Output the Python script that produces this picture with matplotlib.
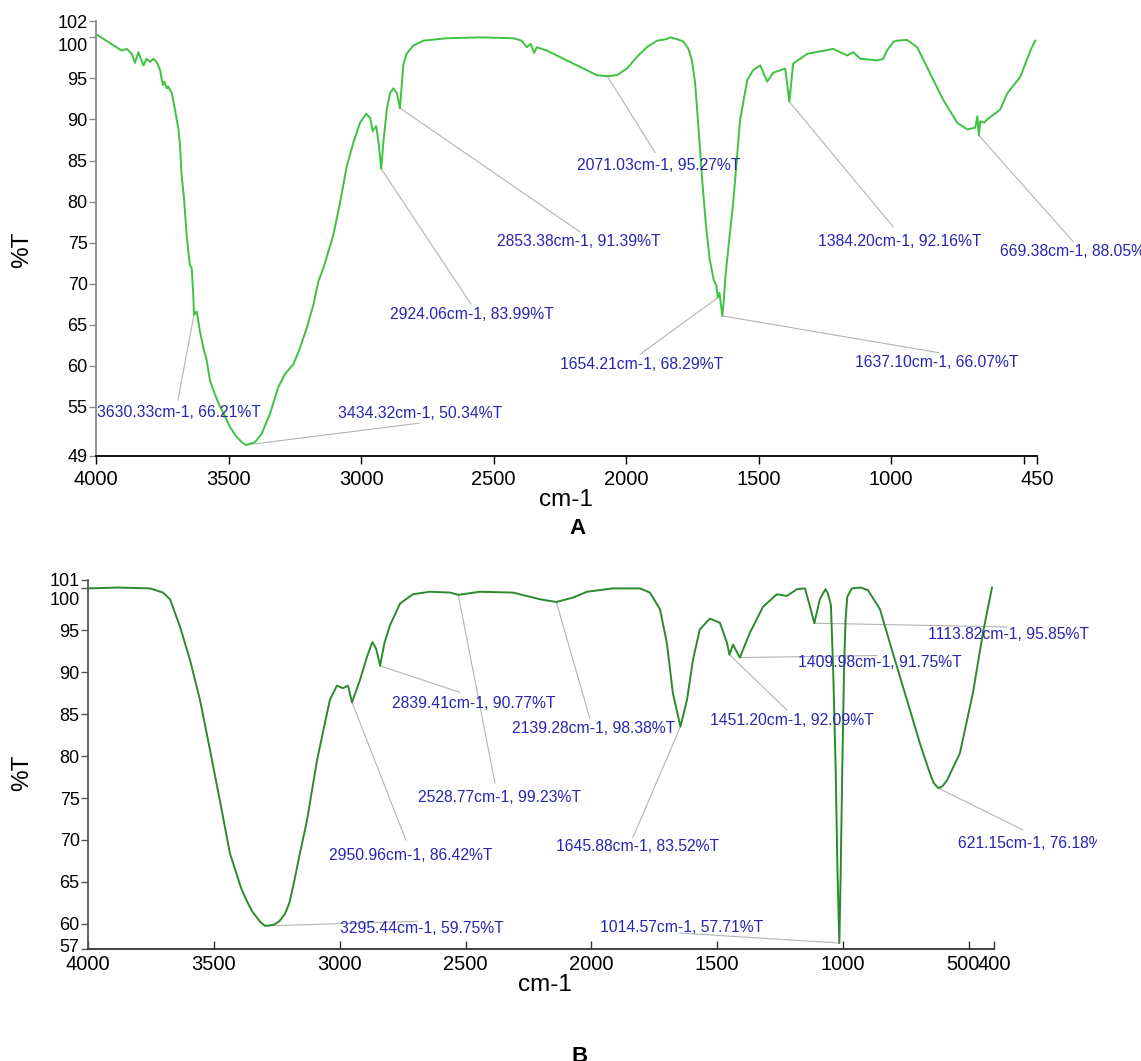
# FTIR spectra A and B with labelled peaks

import matplotlib
matplotlib.use('Agg')
import matplotlib.pyplot as plt
from matplotlib.transforms import Bbox, ScaledTranslation

plt.rcParams['font.family'] = ['Liberation Sans', 'DejaVu Sans']

# ---- spectrum A (wavenumber cm-1, %T) ----
a_wn = [4000, 3903, 3884, 3865, 3853, 3840, 3821, 3809, 3796, 3784, 3771, 3758,
        3748, 3742, 3733, 3727, 3714, 3702, 3689, 3683, 3677, 3668, 3658, 3649,
        3645, 3639, 3633, 3630.33, 3620, 3608, 3595, 3582, 3570, 3557, 3538,
        3519, 3494, 3469, 3444, 3434.32, 3400, 3375, 3343, 3312, 3287, 3255,
        3230, 3205, 3180, 3161, 3142, 3105, 3079, 3054, 3029, 3004, 2981, 2966,
        2956, 2943, 2934, 2924.06, 2916, 2903, 2891, 2878, 2865, 2853.38, 2847,
        2840, 2828, 2803, 2765, 2677, 2551, 2425, 2394, 2375, 2360, 2347, 2337,
        2299, 2249, 2199, 2148, 2111, 2071.03, 2035, 1997, 1960, 1922, 1884,
        1846, 1834, 1809, 1784, 1765, 1752, 1740, 1727, 1714, 1700, 1685, 1670,
        1660, 1654.21, 1648, 1637.10, 1632, 1625, 1612, 1596, 1570, 1543, 1521,
        1494, 1468, 1445, 1400, 1384.20, 1370, 1317, 1219, 1166, 1143, 1117,
        1053, 1030, 1016, 991, 978, 940, 902, 853, 804, 751, 713, 683, 675,
        669.38, 664, 650, 638, 589, 562, 513, 475, 457]
a_T = [100.4, 98.4, 98.6, 98.0, 96.9, 98.2, 96.6, 97.4, 97.0, 97.4, 97.0, 96.0,
       94.2, 94.6, 93.8, 94.0, 93.2, 91.2, 88.8, 86.8, 83.2, 80.4, 75.9, 73.1,
       72.2, 71.9, 68.6, 66.21, 66.6, 64.2, 62.2, 60.6, 58.2, 57.0, 55.4,
       54.2, 52.5, 51.3, 50.5, 50.34, 50.7, 51.7, 54.2, 57.4, 59.0, 60.2,
       62.2, 64.6, 67.4, 70.3, 71.9, 75.9, 79.9, 84.3, 87.2, 89.6, 90.7, 90.2,
       88.6, 89.2, 87.2, 83.99, 87.2, 91.2, 93.2, 93.8, 93.2, 91.39, 94.0,
       96.8, 98.0, 99.0, 99.6, 99.9, 100.0, 99.9, 99.6, 98.8, 99.2, 98.1, 98.8,
       98.4, 97.6, 96.8, 96.0, 95.4, 95.27, 95.4, 96.2, 97.6, 98.8, 99.6,
       99.8, 100.0, 99.8, 99.5, 98.6, 97.2, 94.5, 89.0, 83.0, 77.5, 73.0, 70.5,
       69.8, 68.29, 68.9, 66.07, 67.8, 71.0, 75.1, 79.9, 90.0, 94.8, 96.0,
       96.6, 94.6, 95.7, 96.2, 92.16, 96.8, 98.0, 98.6, 97.8, 98.2, 97.4,
       97.2, 97.4, 98.4, 99.5, 99.6, 99.7, 98.8, 95.6, 92.4, 89.6, 88.8, 89.0, 90.4,
       88.05, 89.8, 89.6, 90.0, 91.2, 93.2, 95.2, 98.4, 99.6]

a_peak_wn = [3630.33, 3434.32, 2924.06, 2853.38, 2071.03, 1654.21, 1637.10, 1384.20, 669.38]
a_peak_T = [66.21, 50.34, 83.99, 91.39, 95.27, 68.29, 66.07, 92.16, 88.05]
# label layout: text left/centre and leader end, in data units
a_text_pos = [(3996, 54.3), (3087, 54.2), (2891, 66.3), (2487, 75.1), (2185, 84.4),
              (2249, 60.2), (1136, 60.4), (1275, 75.1), (589, 73.9)]
a_lead_end = [(3691, 55.8), (2781, 53.0), (2585, 67.5), (2174, 76.3), (1891, 86.0),
              (1947, 61.4), (823, 61.6), (992, 76.9), (313, 75.1)]

# ---- spectrum B ----
b_wn = [4000, 3880, 3754, 3702, 3674, 3634, 3595, 3555, 3515, 3476, 3436, 3392,
        3370, 3348, 3330, 3315, 3295.44, 3261, 3240, 3217, 3200, 3186, 3158, 3130,
        3090, 3039, 3011, 2987, 2967, 2950.96, 2919, 2892, 2870, 2855, 2839.41,
        2822, 2800, 2760, 2709, 2641, 2560, 2528.77, 2443, 2311, 2204, 2139.28,
        2073, 2017, 1914, 1807, 1767, 1727, 1700, 1676, 1645.88, 1620, 1596,
        1569, 1529, 1489, 1461, 1451.20, 1437, 1409.98, 1370, 1318, 1263, 1223,
        1183, 1151, 1131, 1113.82, 1092, 1070, 1060, 1048, 1039, 1029, 1022,
        1014.57, 1009, 1003, 996, 990, 983, 965, 930, 901, 853, 802, 746, 694,
        680, 655, 640, 621.15, 605, 587, 536, 484, 444, 408]
b_T = [100.0, 100.1, 100.0, 99.5, 98.7, 95.4, 91.5, 86.7, 80.7, 74.7, 68.4, 64.3,
       62.8, 61.5, 60.8, 60.2, 59.75, 59.9, 60.3, 61.2, 62.5, 64.3, 68.4, 72.3,
       79.5, 86.7, 88.4, 88.1, 88.4, 86.42, 89.1, 91.8, 93.6, 92.8, 90.77,
       93.5, 95.6, 98.2, 99.3, 99.6, 99.5, 99.23, 99.6, 99.5, 98.7, 98.38,
       98.9, 99.6, 100.0, 100.0, 99.5, 97.5, 93.5, 87.5, 83.52, 86.7, 91.5,
       95.1, 96.4, 95.9, 93.5, 92.09, 93.3, 91.75, 94.7, 97.8, 99.3, 99.1,
       99.9, 100.0, 97.8, 95.85, 98.7, 99.9, 99.4, 98.0, 90.2, 78.3, 66.4,
       57.71, 66.4, 78.3, 90.2, 96.2, 99.0, 100.0, 100.1, 99.8, 97.5, 92.3, 86.7, 81.5,
       80.2, 78.0, 76.8, 76.18, 76.4, 77.1, 80.3, 87.5, 94.7, 100.1]

b_peak_wn = [2839.41, 2139.28, 2528.77, 1451.20, 1409.98, 1113.82, 621.15,
             2950.96, 1645.88, 3295.44, 1014.57]
b_peak_T = [90.77, 98.38, 99.23, 92.09, 91.75, 95.85, 76.18,
            86.42, 83.52, 59.75, 57.71]
b_text_pos = [(2792, 86.3), (2316, 83.3), (2689, 75.1), (1529, 84.3), (1179, 91.2),
              (663, 94.5), (544, 69.6), (3042, 68.2), (2141, 69.2), (2999, 59.5),
              (1966, 59.6)]
b_lead_end = [(2522, 87.6), (2006, 84.5), (2383, 76.8), (1223, 85.5), (865, 92.0),
              (349, 95.4), (285, 71.2), (2737, 70.0), (1835, 70.3), (2693, 60.3),
              (1648, 58.9)]

W, H = 1141, 1061
fig = plt.figure(figsize=(W / 100, H / 100), dpi=100)

label_blue = '#2626b0'
lead_grey = '#b4b4b4'


def px_axes(left, right, top, bottom):
    return fig.add_axes([left / W, 1 - bottom / H, (right - left) / W, (bottom - top) / H])


def label_peaks(ax, pw, pt, tpos, lend, clip=None):
    for w, t, (tx, ty), (lx, ly) in zip(pw, pt, tpos, lend):
        ax.plot([w, lx], [t, ly], color=lead_grey, lw=0.8, clip_on=False, zorder=1)
        txt = ax.text(tx, ty, f"{w:.2f}cm-1, {t:.2f}%T", color=label_blue, fontsize=11.3,
                      ha='left', va='center', clip_on=False, zorder=3)
        if clip is not None:
            txt.set_clip_on(True)
            txt.set_clip_box(clip)


def style_axes(ax, spine_left, spine_bottom, tickdir):
    for s in ['top', 'right']:
        ax.spines[s].set_visible(False)
    ax.spines['left'].set_color(spine_left)
    ax.spines['bottom'].set_color(spine_bottom)
    ax.spines['left'].set_linewidth(1.3)
    ax.spines['bottom'].set_linewidth(1.3)
    ax.tick_params(axis='y', direction='out', length=5, width=1, colors=spine_left,
                   labelcolor='black', labelsize=13, pad=1)
    ax.tick_params(axis='x', direction=tickdir, length=6, width=1, colors=spine_bottom,
                   labelcolor='black', labelsize=14.5, pad=4)


def shift_label(ax, axis, idx, dx_px, dy_px):
    labels = ax.get_yticklabels() if axis == 'y' else ax.get_xticklabels()
    lab = labels[idx]
    lab.set_transform(lab.get_transform() + ScaledTranslation(dx_px / 100, dy_px / 100, fig.dpi_scale_trans))


# ---- panel A ----
axA = px_axes(96, 1037, 21, 456)
axA.plot(a_wn, a_T, color='#3fc23f', lw=1.4, zorder=2)
axA.set_xlim(4000, 450)
axA.set_ylim(49, 102)
axA.set_xticks([4000, 3500, 3000, 2500, 2000, 1500, 1000, 500, 450])
axA.set_xticklabels(['4000', '3500', '3000', '2500', '2000', '1500', '1000', '', '450'])
axA.set_yticks([49, 55, 60, 65, 70, 75, 80, 85, 90, 95, 100, 102])
axA.set_yticklabels(['49', '55', '60', '65', '70', '75', '80', '85', '90', '95', '100', '102'])
style_axes(axA, '#8a8a8a', 'black', 'out')
shift_label(axA, 'y', 10, 0, -7)
label_peaks(axA, a_peak_wn, a_peak_T, a_text_pos, a_lead_end)

# ---- panel B ----
axB = px_axes(88, 994, 580, 949)
axB.plot(b_wn, b_T, color='#2c8a2c', lw=1.4, zorder=2)
axB.set_xlim(4000, 400)
axB.set_ylim(57, 101)
axB.set_xticks([4000, 3500, 3000, 2500, 2000, 1500, 1000, 500, 400])
axB.set_yticks([57, 60, 65, 70, 75, 80, 85, 90, 95, 100, 101])
style_axes(axB, '#555555', '#333333', 'in')
shift_label(axB, 'y', 9, 0, -10)
shift_label(axB, 'y', 0, 0, 3)   # keep "57" clear of "4000"
shift_label(axB, 'x', 7, -6, 0)
label_peaks(axB, b_peak_wn, b_peak_T, b_text_pos, b_lead_end,
            clip=Bbox([[0, 0], [1097, H]]))

# ---- axis titles and panel letters (figure pixel positions) ----
def fig_text(x, y, s, **kw):
    fig.text(x / W, 1 - y / H, s, ha='center', va='center', **kw)


fig_text(22, 250, '%T', fontsize=17.5, rotation=90)
fig_text(566, 500, 'cm-1', fontsize=17.5)
fig_text(578, 528, 'A', fontsize=16, fontweight='bold')
fig_text(22, 773, '%T', fontsize=17.5, rotation=90)
fig_text(545, 985, 'cm-1', fontsize=17.5)
fig_text(580, 1056, 'B', fontsize=16, fontweight='bold')

fig.savefig('out.png', dpi=100)
